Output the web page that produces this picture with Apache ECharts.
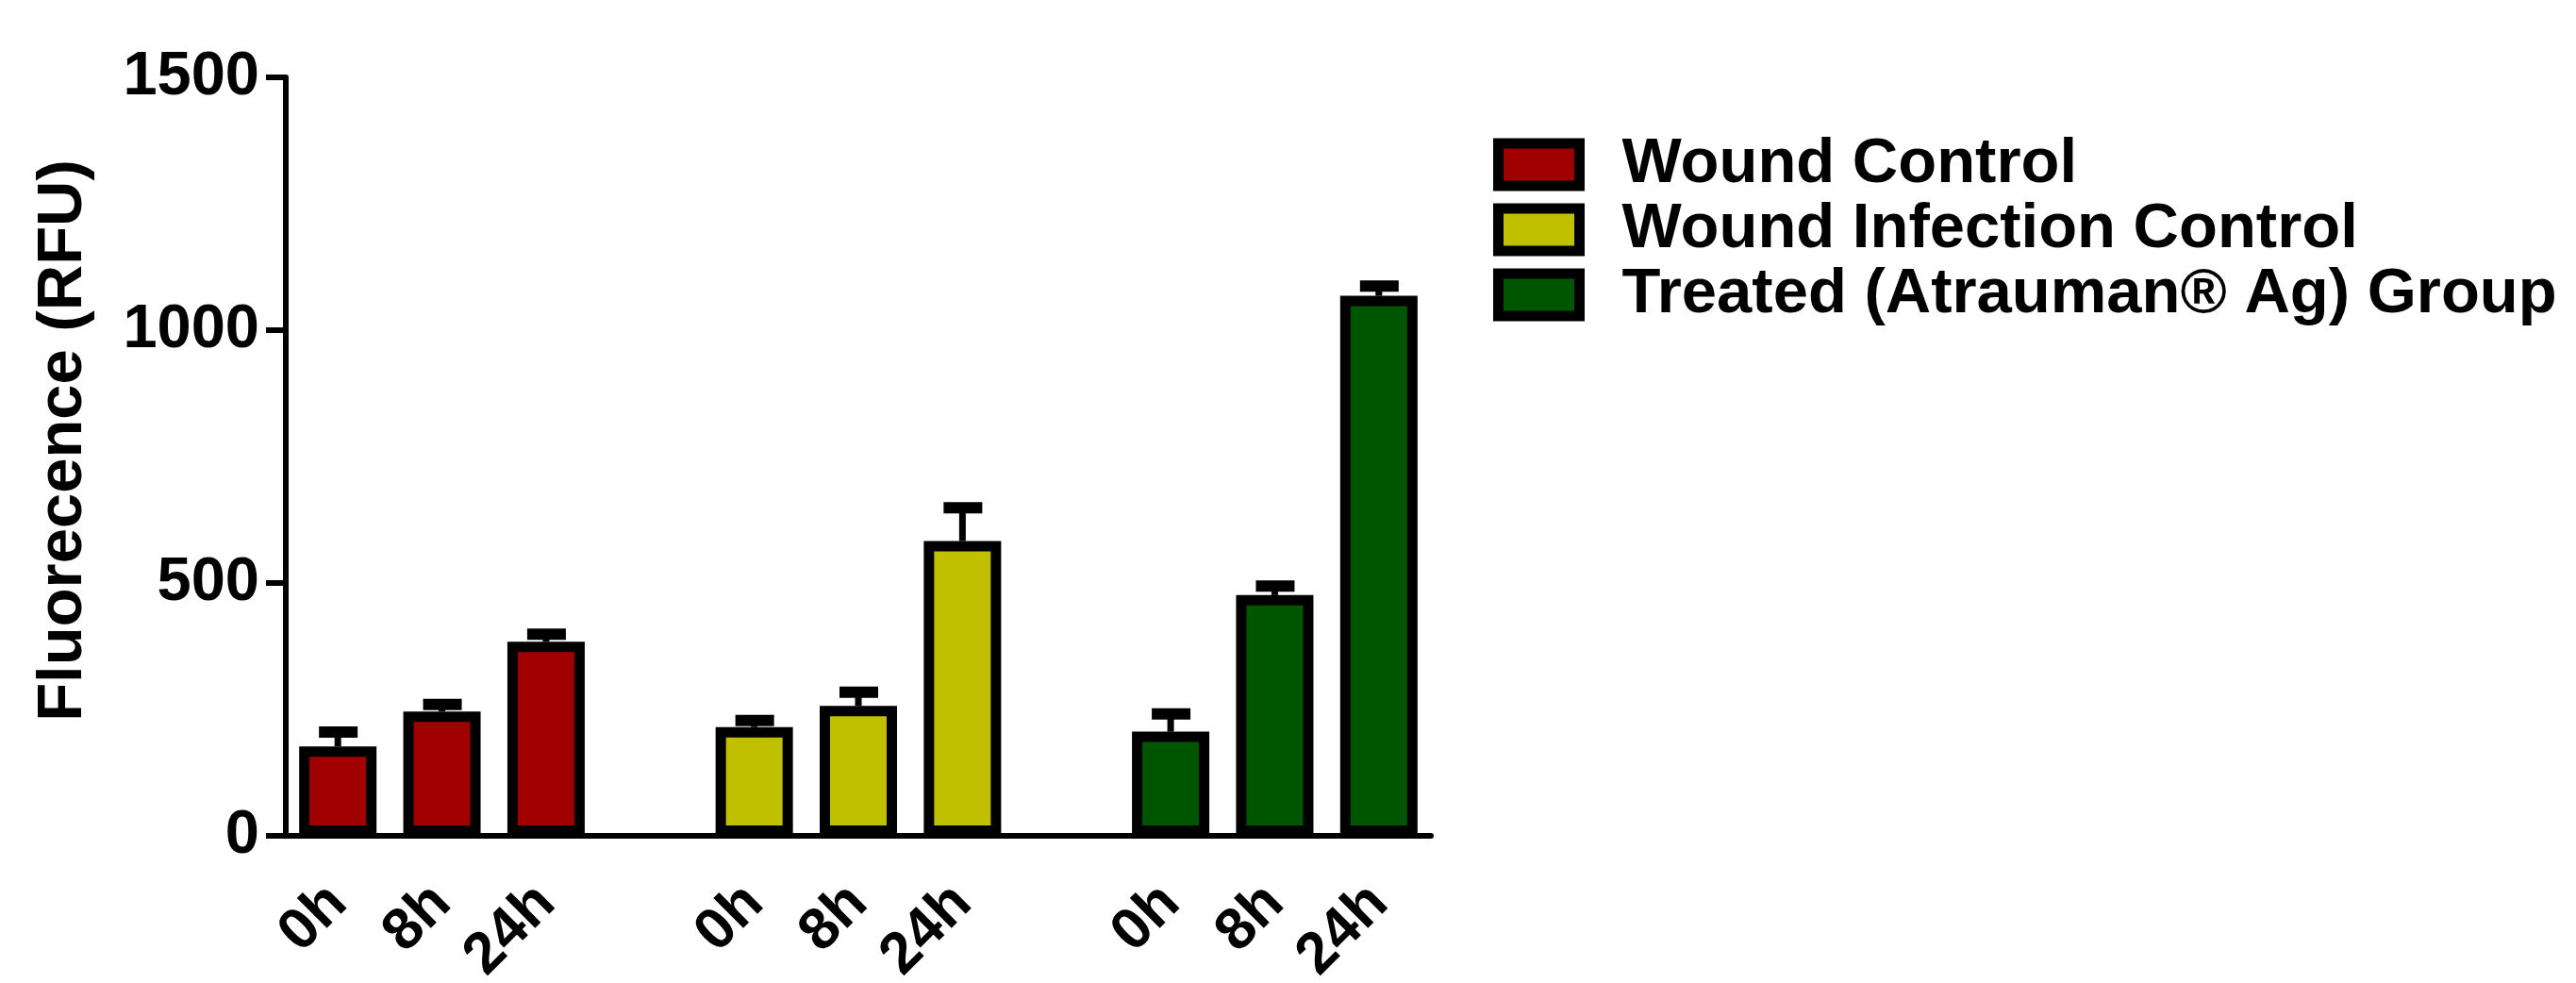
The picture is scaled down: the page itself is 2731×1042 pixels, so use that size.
<!DOCTYPE html>
<html>
<head>
<meta charset="utf-8">
<script src="https://cdn.jsdelivr.net/npm/echarts@6/dist/echarts.min.js"></script>
<style>
html,body{margin:0;padding:0;background:#fff;overflow:hidden;}
#chart{width:2731px;height:1042px;}
</style>
</head>
<body>
<div id="chart"></div>
<script>
// ---- data ----
const categories = ['0h', '8h', '24h', '', '0h', '8h', '24h', '', '0h', '8h', '24h'];
const seriesNames = ['Wound Control', 'Wound Infection Control', 'Treated (Atrauman® Ag) Group'];
const woundControl = [177, 246, 384];
const woundControlErr = [28, 14, 15];
const infectionControl = [215, 257, 583];
const infectionControlErr = [13, 27, 66];
const treatedGroup = [206, 476, 1068];
const treatedGroupErr = [35, 18, 19];
const groupStart = [0, 4, 8];
const yTicks = [0, 500, 1000, 1500];
const yTitle = 'Fluorecence (RFU)';
const colors = ['#A00000', '#C0C000', '#005500'];

const FONT = 'Liberation Sans';
const groupValues = [woundControl, infectionControl, treatedGroup];
const groupErrs = [woundControlErr, infectionControlErr, treatedGroupErr];

function barData(g) {
  const arr = categories.map(() => '-');
  groupValues[g].forEach((v, i) => { arr[groupStart[g] + i] = v; });
  return arr;
}
const errData = [];
groupValues.forEach((vals, g) => {
  vals.forEach((v, i) => errData.push([groupStart[g] + i, v, groupErrs[g][i]]));
});

const series = seriesNames.map((name, g) => ({
  name: name,
  type: 'bar',
  data: barData(g),
  barWidth: 82,
  barGap: '-100%',
  itemStyle: { color: colors[g], borderColor: '#000', borderWidth: 11 },
  emphasis: { disabled: true },
  z: 2
}));
series.push({
  type: 'custom',
  data: errData,
  encode: { x: 0, y: 1 },
  z: 3,
  silent: true,
  renderItem: function (params, api) {
    const x = api.value(0), v = api.value(1), e = api.value(2);
    const p0 = api.coord([x, v]);
    const p1 = api.coord([x, v + e]);
    return {
      type: 'group',
      children: [
        { type: 'line', shape: { x1: p0[0], y1: p0[1], x2: p1[0], y2: p1[1] }, style: { stroke: '#000', lineWidth: 7 } },
        { type: 'line', shape: { x1: p1[0] - 20, y1: p1[1], x2: p1[0] + 21, y2: p1[1] }, style: { stroke: '#000', lineWidth: 12 } }
      ]
    };
  }
});

const chart = echarts.init(document.getElementById('chart'));
chart.setOption({
  animation: false,
  backgroundColor: '#fff',
  grid: { left: 303, right: 1214, top: 82, bottom: 156, containLabel: false, outerBoundsMode: 'none' },
  legend: {
    data: seriesNames,
    orient: 'vertical',
    left: 1578,
    top: 136,
    icon: 'rect',
    itemWidth: 86,
    itemHeight: 45,
    itemGap: 2,
    selectedMode: false,
    itemStyle: { borderColor: '#000', borderWidth: 11 },
    textStyle: { fontFamily: FONT, fontWeight: 'bold', fontSize: 67, color: '#000', lineHeight: 59, padding: [0, 0, 0, 40] }
  },
  graphic: [{
    type: 'text',
    x: 68,
    y: 467,
    rotation: Math.PI / 2,
    style: { text: yTitle, fontFamily: FONT, fontWeight: 'bold', fontSize: 67, fill: '#000', align: 'center', verticalAlign: 'middle' }
  }],
  xAxis: {
    type: 'category',
    data: categories,
    boundaryGap: true,
    axisLine: { lineStyle: { color: '#000', width: 6 } },
    axisTick: { alignWithLabel: true, length: 20, lineStyle: { color: '#000', width: 6 } },
    axisLabel: { interval: 0, rotate: 45, margin: 62, padding: [77, 0, 0, 0], fontFamily: FONT, fontWeight: 'bold', fontSize: 62, color: '#000' }
  },
  yAxis: {
    type: 'value',
    min: 0,
    max: 1500,
    interval: 500,
    axisLine: { show: true, lineStyle: { color: '#000', width: 6 } },
    axisTick: { show: true, length: 21, lineStyle: { color: '#000', width: 6 } },
    splitLine: { show: false },
    axisLabel: {
      margin: 28, fontFamily: FONT, fontWeight: 'bold', fontSize: 65, color: '#000',
      formatter: function (v) { return yTicks.indexOf(v) >= 0 ? String(v) : ''; }
    }
  },
  series: series
});
</script>
</body>
</html>
